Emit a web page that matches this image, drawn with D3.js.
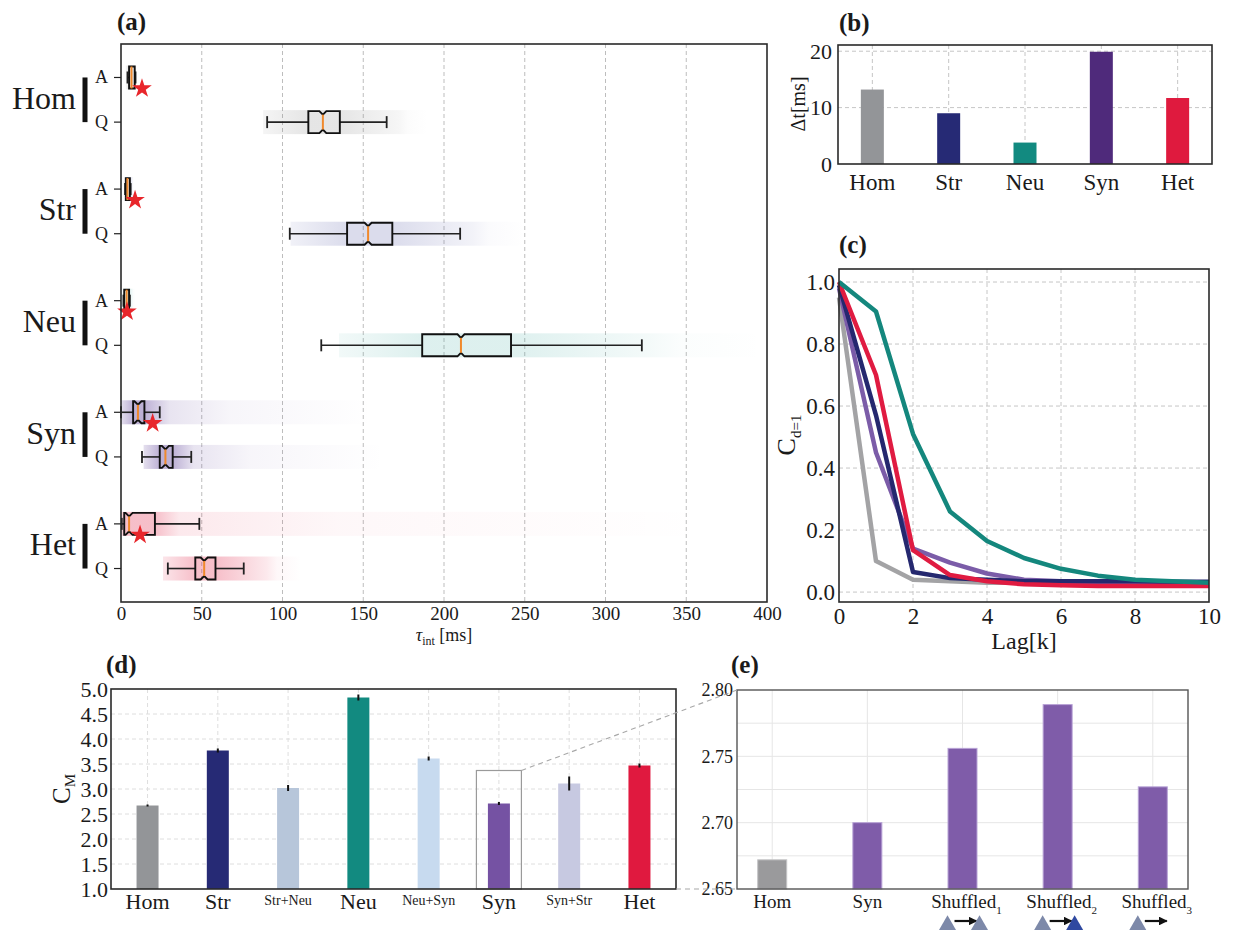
<!DOCTYPE html>
<html>
<head>
<meta charset="utf-8">
<script src="https://cdnjs.cloudflare.com/ajax/libs/d3/7.8.5/d3.min.js"></script>
<style>
body { margin: 0; background: #fff; }
svg text { font-family: "Liberation Serif", "DejaVu Serif", serif; fill: #1a1a1a; }
</style>
</head>
<body>
<div id="chart"></div>
<script>
// ---- data ----
var groups = ["Hom", "Str", "Neu", "Syn", "Het"];
var rowKinds = ["A", "Q", "A", "Q", "A", "Q", "A", "Q", "A", "Q"];
// box stats per row (Hom A, Hom Q, Str A, ...) in ms
var whiskLo = [4, 90.5, 2.5, 104.5, 1.5, 124, 0, 13, 0.5, 29];
var boxQ1   = [5, 116, 3, 140, 2, 186.5, 7.5, 24, 2, 46];
var boxMed  = [6.5, 125, 4, 153, 3.5, 210.5, 10.5, 27.5, 5, 51.5];
var boxQ3   = [8.5, 135.5, 5.5, 168, 5, 241.5, 14.5, 32, 21, 58.5];
var whiskHi = [9, 164.5, 6, 210, 5.5, 322.5, 24, 43.5, 48.5, 76];
// extent of the jittered sample clouds
var cloudLo = [3, 88, 2, 105, 1, 135, 0, 14, 0, 26];
var cloudHi = [9, 172, 7, 218, 7, 325, 30, 45, 36, 90];
var tailHi  = [10, 190, 8, 250, 9, 398, 156, 163, 365, 112];
var starVals = [13, 8.7, 3.7, 19.6, 11.8];

var dtVals = [13.2, 9.0, 3.8, 19.9, 11.7];

var lags = [0, 1, 2, 3, 4, 5, 6, 7, 8, 9, 10];
var cHom = [0.95, 0.10, 0.04, 0.035, 0.03, 0.03, 0.03, 0.03, 0.03, 0.03, 0.03];
var cSyn = [0.98, 0.45, 0.14, 0.095, 0.06, 0.04, 0.035, 0.03, 0.03, 0.03, 0.03];
var cStr = [0.99, 0.57, 0.065, 0.045, 0.04, 0.035, 0.035, 0.035, 0.035, 0.033, 0.033];
var cHet = [1.0, 0.70, 0.135, 0.055, 0.035, 0.025, 0.022, 0.02, 0.02, 0.02, 0.02];
var cNeu = [1.0, 0.905, 0.51, 0.26, 0.165, 0.11, 0.075, 0.053, 0.04, 0.035, 0.03];

var cmCats = ["Hom", "Str", "Str+Neu", "Neu", "Neu+Syn", "Syn", "Syn+Str", "Het"];
var cmVals = [2.67, 3.77, 3.02, 4.83, 3.61, 2.71, 3.11, 3.47];
var cmErr  = [0.01, 0.03, 0.05, 0.05, 0.03, 0.02, 0.13, 0.03];
var zoomBoxTop = 3.37;

var shufCats = ["Hom", "Syn", "Shuffled", "Shuffled", "Shuffled"];
var shufSub  = ["", "", "1", "2", "3"];
var shufVals = [2.672, 2.700, 2.756, 2.789, 2.727];
var shufTo   = [null, null, "#7d89a9", "#2f49a0", null];

// ---- colours ----
var grpCol = ["#939598", "#262a75", "#128a80", "#4f2a7b", "#df1a3e"];
var cloudCol = ["#8a8a8a", "#4b50a0", "#3aa89e", "#5a3c96", "#e0193f"];
var cloudPeak = [0.22, 0.2, 0.17, 0.4, 0.28];
var cmCol = ["#939598", "#262a75", "#b7c6da", "#128a80", "#c7daef", "#7552a3", "#c7c9e1", "#e0193f"];

var FONT = "Liberation Serif";

var svg = d3.select("#chart").append("svg")
    .attr("width", 1234)
    .attr("height", 930);
var defs = svg.append("defs");

function frame(x0, y0, x1, y1) {
    svg.append("rect")
        .attr("x", x0).attr("y", y0)
        .attr("width", x1 - x0).attr("height", y1 - y0)
        .attr("fill", "none")
        .attr("stroke", "#2a2a2a")
        .attr("stroke-width", 1.6);
}

function panelLabel(txt, x, y) {
    svg.append("text")
        .attr("x", x).attr("y", y)
        .style("font-size", "25px")
        .style("font-weight", "bold")
        .text(txt);
}

function styleAxis(ax, size) {
    ax.attr("font-family", FONT).attr("font-size", size);
    ax.select(".domain").remove();
    ax.selectAll("text")
        .attr("font-family", FONT)
        .style("font-family", FONT)
        .style("font-size", size + "px")
        .attr("fill", "#1a1a1a");
}

// ================= (a) =================
var xA = d3.scaleLinear().domain([0, 400]).range([121, 767]);
var yA = d3.scaleLinear().domain([-0.75, 11.75]).range([44, 602]);
function rowY(i) { return yA(Math.floor(i / 2) * 2.5 + i % 2); }

svg.append("g").selectAll("line")
    .data([50, 100, 150, 200, 250, 300, 350])
    .enter().append("line")
    .attr("x1", d => xA(d)).attr("x2", d => xA(d))
    .attr("y1", 44).attr("y2", 602)
    .attr("stroke", "#bdbdbd")
    .attr("stroke-dasharray", "4,3");

// sample clouds as gradients
rowKinds.forEach(function (k, i) {
    var lo = cloudLo[i], hi = tailHi[i];
    var f = v => Math.max(0, Math.min(1, (v - lo) / (hi - lo)));
    var g = defs.append("linearGradient")
        .attr("id", "cl" + i)
        .attr("gradientUnits", "userSpaceOnUse")
        .attr("x1", xA(lo)).attr("x2", xA(hi))
        .attr("y1", 0).attr("y2", 0);
    var j = Math.floor(i / 2), c = cloudCol[j], pk = cloudPeak[j];
    [[0, pk * 0.4], [f(boxQ1[i]), pk], [f(boxQ3[i]), pk], [f(cloudHi[i]), pk * 0.35], [f(cloudHi[i]) + (1 - f(cloudHi[i])) * 0.3, pk * 0.12], [1, 0.0]]
        .forEach(function (s) {
            g.append("stop").attr("offset", s[0]).attr("stop-color", c).attr("stop-opacity", s[1]);
        });
});

svg.append("g").selectAll("rect")
    .data(rowKinds)
    .enter().append("rect")
    .attr("x", (d, i) => xA(cloudLo[i]))
    .attr("width", (d, i) => xA(tailHi[i]) - xA(cloudLo[i]))
    .attr("y", (d, i) => rowY(i) - 12)
    .attr("height", 24)
    .attr("fill", (d, i) => "url(#cl" + i + ")");

// boxes
var boxes = svg.append("g");
rowKinds.forEach(function (k, i) {
    var y = rowY(i), t = y - 11, b = y + 11;
    var q1 = xA(boxQ1[i]), q3 = xA(boxQ3[i]), m = xA(boxMed[i]);
    var n = 3.5, dp = 3.5;
    boxes.append("line")
        .attr("x1", xA(whiskLo[i])).attr("x2", q1).attr("y1", y).attr("y2", y)
        .attr("stroke", "#222").attr("stroke-width", 1.6);
    boxes.append("line")
        .attr("x1", q3).attr("x2", xA(whiskHi[i])).attr("y1", y).attr("y2", y)
        .attr("stroke", "#222").attr("stroke-width", 1.6);
    [whiskLo[i], whiskHi[i]].forEach(function (v) {
        boxes.append("line")
            .attr("x1", xA(v)).attr("x2", xA(v)).attr("y1", y - 6).attr("y2", y + 6)
            .attr("stroke", "#222").attr("stroke-width", 1.8);
    });
    var path;
    if (q3 - q1 > 3 * n) {
        path = "M" + q1 + "," + t + "L" + (m - n) + "," + t + "L" + m + "," + (t + dp) +
            "L" + (m + n) + "," + t + "L" + q3 + "," + t + "L" + q3 + "," + b +
            "L" + (m + n) + "," + b + "L" + m + "," + (b - dp) + "L" + (m - n) + "," + b +
            "L" + q1 + "," + b + "Z";
    } else {
        dp = 0;
        path = "M" + q1 + "," + t + "L" + q3 + "," + t + "L" + q3 + "," + b + "L" + q1 + "," + b + "Z";
    }
    boxes.append("path").attr("d", path)
        .attr("fill", "none").attr("stroke", "#111").attr("stroke-width", 1.9);
    boxes.append("line")
        .attr("x1", m).attr("x2", m).attr("y1", t + dp).attr("y2", b - dp)
        .attr("stroke", "#f0892c").attr("stroke-width", 2);
});

// red stars
svg.append("g").selectAll("path")
    .data(starVals)
    .enter().append("path")
    .attr("d", d3.symbol(d3.symbolStar).size(120))
    .attr("transform", (d, i) => "translate(" + xA(d) + "," + (rowY(i * 2) + 11) + ")")
    .attr("fill", "#e8262b");

frame(121, 44, 767, 602);

// y ticks A / Q
rowKinds.forEach(function (k, i) {
    svg.append("line")
        .attr("x1", 114).attr("x2", 121).attr("y1", rowY(i)).attr("y2", rowY(i))
        .attr("stroke", "#222").attr("stroke-width", 1.2);
    svg.append("text")
        .attr("x", 108).attr("y", rowY(i) + 6)
        .attr("text-anchor", "end")
        .style("font-size", "18px")
        .text(k);
});
groups.forEach(function (g, j) {
    var ya = rowY(j * 2), yq = rowY(j * 2 + 1);
    svg.append("rect")
        .attr("x", 82.5).attr("y", ya).attr("width", 5).attr("height", yq - ya)
        .attr("fill", "#111");
    svg.append("text")
        .attr("x", 76).attr("y", (ya + yq) / 2 + 9)
        .attr("text-anchor", "end")
        .style("font-size", "32px")
        .text(g);
});

var axA = svg.append("g")
    .attr("transform", "translate(0,602)")
    .call(d3.axisBottom(xA).tickValues([0, 50, 100, 150, 200, 250, 300, 350, 400]).tickSize(0).tickPadding(5));
styleAxis(axA, 19);

var xlabA = svg.append("text").attr("x", 444).attr("y", 641).attr("text-anchor", "middle").style("font-size", "18px");
xlabA.append("tspan").style("font-style", "italic").text("τ");
xlabA.append("tspan").attr("dy", 4).style("font-size", "12px").text("int");
xlabA.append("tspan").attr("dy", -4).text(" [ms]");
panelLabel("(a)", 117, 30);

// ================= (b) =================
var xB = d3.scaleLinear().domain([-0.45, 4.45]).range([838, 1212]);
var yB = d3.scaleLinear().domain([0, 21.1]).range([164, 45]);
var gridB = svg.append("g").attr("stroke", "#c6c6c6").attr("stroke-dasharray", "4,3");
groups.forEach(function (g, i) {
    gridB.append("line").attr("x1", xB(i)).attr("x2", xB(i)).attr("y1", 45).attr("y2", 164);
});
[10, 20].forEach(function (v) {
    gridB.append("line").attr("x1", 838).attr("x2", 1212).attr("y1", yB(v)).attr("y2", yB(v));
});
svg.append("g").selectAll("rect")
    .data(dtVals)
    .enter().append("rect")
    .attr("x", (d, i) => xB(i) - 11.5)
    .attr("width", 23)
    .attr("y", d => yB(d))
    .attr("height", d => yB(0) - yB(d))
    .attr("fill", (d, i) => grpCol[i]);
frame(838, 45, 1212, 164);
var ayB = svg.append("g").attr("transform", "translate(838,0)")
    .call(d3.axisLeft(yB).tickValues([0, 10, 20]).tickSize(0).tickPadding(6));
styleAxis(ayB, 22);
svg.append("g").selectAll("text")
    .data(groups)
    .enter().append("text")
    .attr("x", (d, i) => xB(i)).attr("y", 190)
    .attr("text-anchor", "middle")
    .style("font-size", "23px")
    .text(d => d);
svg.append("text")
    .attr("transform", "translate(805,104) rotate(-90)")
    .attr("text-anchor", "middle")
    .style("font-size", "20px")
    .text("Δt[ms]");
panelLabel("(b)", 839, 31);

// ================= (c) =================
var xC = d3.scaleLinear().domain([0, 10]).range([839, 1209]);
var yC = d3.scaleLinear().domain([-0.032, 1.042]).range([602, 269]);
var gridC = svg.append("g").attr("stroke", "#c6c6c6").attr("stroke-dasharray", "4,3");
[2, 4, 6, 8].forEach(function (v) {
    gridC.append("line").attr("x1", xC(v)).attr("x2", xC(v)).attr("y1", 269).attr("y2", 602);
});
[0, 0.2, 0.4, 0.6, 0.8, 1.0].forEach(function (v) {
    gridC.append("line").attr("x1", 839).attr("x2", 1209).attr("y1", yC(v)).attr("y2", yC(v));
});
var lineC = d3.line().x((d, i) => xC(lags[i])).y(d => yC(d));
var seriesC = [cHom, cSyn, cStr, cHet, cNeu];
var colC = ["#a3a3a5", "#7b5ca8", "#25286f", "#e01b41", "#14877d"];
svg.append("g").selectAll("path")
    .data(seriesC)
    .enter().append("path")
    .attr("d", lineC)
    .attr("fill", "none")
    .attr("stroke", (d, i) => colC[i])
    .attr("stroke-width", 4.5)
    .attr("stroke-linejoin", "round");
frame(839, 269, 1209, 602);
var axC = svg.append("g").attr("transform", "translate(0,602)")
    .call(d3.axisBottom(xC).tickValues([0, 2, 4, 6, 8, 10]).tickSize(0).tickPadding(6));
styleAxis(axC, 23);
var ayC = svg.append("g").attr("transform", "translate(839,0)")
    .call(d3.axisLeft(yC).tickValues([0, 0.2, 0.4, 0.6, 0.8, 1.0]).tickFormat(d3.format(".1f")).tickSize(0).tickPadding(4));
styleAxis(ayC, 23);
svg.append("text").attr("x", 1024).attr("y", 649).attr("text-anchor", "middle")
    .style("font-size", "24px").text("Lag[k]");
var ylabC = svg.append("text")
    .attr("transform", "translate(795,435) rotate(-90)")
    .attr("text-anchor", "middle")
    .style("font-size", "26px");
ylabC.append("tspan").text("C");
ylabC.append("tspan").attr("dy", 6).style("font-size", "15px").text("d=1");
panelLabel("(c)", 839, 253);

// ================= (d) =================
var xD = d3.scaleLinear().domain([-0.52, 7.52]).range([111, 676]);
var yD = d3.scaleLinear().domain([1, 5]).range([889, 689]);
var gridD = svg.append("g").attr("stroke", "#dedede").attr("stroke-dasharray", "4,3");
cmCats.forEach(function (c, i) {
    gridD.append("line").attr("x1", xD(i)).attr("x2", xD(i)).attr("y1", 689).attr("y2", 889);
});
[1.5, 2, 2.5, 3, 3.5, 4, 4.5].forEach(function (v) {
    gridD.append("line").attr("x1", 111).attr("x2", 676).attr("y1", yD(v)).attr("y2", yD(v));
});
svg.append("g").selectAll("rect")
    .data(cmVals)
    .enter().append("rect")
    .attr("x", (d, i) => xD(i) - 11)
    .attr("width", 22)
    .attr("y", d => yD(d))
    .attr("height", d => yD(1) - yD(d))
    .attr("fill", (d, i) => cmCol[i]);
svg.append("g").selectAll("line")
    .data(cmVals)
    .enter().append("line")
    .attr("x1", (d, i) => xD(i)).attr("x2", (d, i) => xD(i))
    .attr("y1", (d, i) => yD(d - cmErr[i]) + 0.5)
    .attr("y2", (d, i) => yD(d + cmErr[i]) - 0.5)
    .attr("stroke", "#111").attr("stroke-width", 2);
// zoom box around Syn
svg.append("rect")
    .attr("x", xD(5) - 22.5).attr("y", yD(zoomBoxTop))
    .attr("width", 45).attr("height", yD(1) - yD(zoomBoxTop))
    .attr("fill", "none").attr("stroke", "#9a9a9a").attr("stroke-width", 1.2);
frame(111, 689, 676, 889);
var ayD = svg.append("g").attr("transform", "translate(111,0)")
    .call(d3.axisLeft(yD).tickValues([1, 1.5, 2, 2.5, 3, 3.5, 4, 4.5, 5]).tickFormat(d3.format(".1f")).tickSize(0).tickPadding(3));
styleAxis(ayD, 22);
svg.append("g").selectAll("text")
    .data(cmCats)
    .enter().append("text")
    .attr("x", (d, i) => xD(i))
    .attr("y", d => d.indexOf("+") > 0 ? 905 : 909)
    .attr("text-anchor", "middle")
    .style("font-size", d => d.indexOf("+") > 0 ? "14px" : "22px")
    .text(d => d);
var ylabD = svg.append("text")
    .attr("transform", "translate(70,789) rotate(-90)")
    .attr("text-anchor", "middle")
    .style("font-size", "25px");
ylabD.append("tspan").text("C");
ylabD.append("tspan").attr("dy", 5).style("font-size", "15px").text("M");
panelLabel("(d)", 106, 673);

// ================= (e) =================
var xE = d3.scaleLinear().domain([-0.37, 4.37]).range([737, 1188]);
var yE = d3.scaleLinear().domain([2.65, 2.80]).range([889, 690]);
var gridE = svg.append("g").attr("stroke", "#e6e6e6").attr("stroke-width", 1);
shufCats.forEach(function (c, i) {
    gridE.append("line").attr("x1", xE(i)).attr("x2", xE(i)).attr("y1", 690).attr("y2", 889);
});
[2.675, 2.70, 2.725, 2.75, 2.775].forEach(function (v) {
    gridE.append("line").attr("x1", 737).attr("x2", 1188).attr("y1", yE(v)).attr("y2", yE(v));
});
svg.append("g").selectAll("rect")
    .data(shufVals)
    .enter().append("rect")
    .attr("x", (d, i) => xE(i) - 14.5)
    .attr("width", 29)
    .attr("y", d => yE(d))
    .attr("height", d => yE(2.65) - yE(d))
    .attr("fill", (d, i) => i == 0 ? "#9a9a9c" : "#7f5ca9")
    .attr("stroke", (d, i) => i == 0 ? "#c4c4c6" : "#b8a3d6")
    .attr("stroke-width", 1);
svg.append("rect")
    .attr("x", 737).attr("y", 690).attr("width", 451).attr("height", 199)
    .attr("fill", "none").attr("stroke", "#555").attr("stroke-width", 1.4);
var ayE = svg.append("g").attr("transform", "translate(737,0)")
    .call(d3.axisLeft(yE).tickValues([2.65, 2.70, 2.75, 2.80]).tickFormat(d3.format(".2f")).tickSize(0).tickPadding(4));
styleAxis(ayE, 18);
shufCats.forEach(function (c, i) {
    var t = svg.append("text")
        .attr("x", xE(i) + (shufSub[i] ? 4 : 0)).attr("y", 908)
        .attr("text-anchor", "middle")
        .style("font-size", "19px");
    t.append("tspan").text(c);
    if (shufSub[i]) t.append("tspan").attr("dy", 6).style("font-size", "11px").text(shufSub[i]);
});

// shuffle markers under labels
defs.append("marker")
    .attr("id", "arr")
    .attr("viewBox", "0 0 10 10")
    .attr("refX", 9).attr("refY", 5)
    .attr("markerWidth", 4).attr("markerHeight", 4)
    .attr("orient", "auto")
    .append("path").attr("d", "M0,0L10,5L0,10Z").attr("fill", "#111");
shufCats.forEach(function (c, i) {
    if (!shufSub[i]) return;
    var cx = xE(i);
    svg.append("path")
        .attr("d", d3.symbol(d3.symbolTriangle).size(125))
        .attr("transform", "translate(" + (cx - 15) + ",925)")
        .attr("fill", "#7d89a9");
    svg.append("line")
        .attr("x1", cx - 8).attr("x2", cx + 14)
        .attr("y1", 921).attr("y2", 921)
        .attr("stroke", "#111").attr("stroke-width", 2.2)
        .attr("marker-end", "url(#arr)");
    if (shufTo[i]) {
        svg.append("path")
            .attr("d", d3.symbol(d3.symbolTriangle).size(125))
            .attr("transform", "translate(" + (cx + 17) + ",925)")
            .attr("fill", shufTo[i]);
    }
});
panelLabel("(e)", 731, 673);

// connectors from (d) zoom box to (e)
var conn = svg.append("g").attr("stroke", "#a8a8a8").attr("stroke-dasharray", "5,4").attr("stroke-width", 1.1);
conn.append("line")
    .attr("x1", xD(5) + 22.5).attr("y1", yD(zoomBoxTop))
    .attr("x2", 737).attr("y2", yE(2.80));
conn.append("line")
    .attr("x1", 676).attr("y1", yD(1))
    .attr("x2", 737).attr("y2", yE(2.65));
</script>
</body>
</html>
